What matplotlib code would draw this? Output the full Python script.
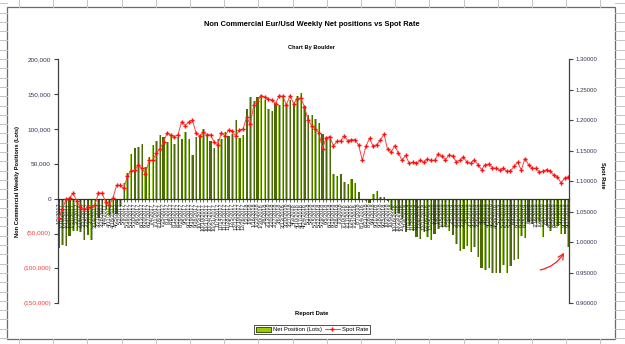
import numpy as np
import pandas as pd
import matplotlib
matplotlib.use("Agg")
import matplotlib.pyplot as plt
from matplotlib.patches import Patch, Rectangle
from matplotlib.lines import Line2D

plt.rcParams['font.family'] = ['Liberation Sans', 'DejaVu Sans']

# Weekly COT report dates
report_dates = pd.date_range("2017-01-03", periods=142, freq="7D")
date_labels = [f"{d.month}/{d.day}/{d.year}" for d in report_dates]

# Non commercial net positions, thousands of lots
net_k = [
    -71, -66, -67.5, -53, -46, -46, -48.5, -59.5, -51.5, -60,
    -41, -28, -22, -15, -24, -20, -22, -10, 22.5, 37,
    64, 73, 74, 78.5, 45, 59, 77, 83, 91.5, 88,
    81, 93, 78.5, 88, 85.7, 96, 85.7, 62.7, 88, 90.5,
    99, 91.5, 83, 72, 84.7, 84.7, 95, 89.5, 93, 113,
    86.6, 91.5, 128, 145, 140, 145.5, 148, 140.7, 127.8, 126,
    137, 133.5, 145.5, 135, 140.7, 135, 147, 152, 132, 120,
    120, 114.5, 109, 93, 88, 90, 35.5, 33, 35.5, 24,
    20.5, 28, 22, 10, -2, -3, -7, 7, 11.5, 2.5,
    3, -4, -17, -22, -20, -29, -48, -39, -47, -55.5,
    -58, -48, -55.5, -59, -50.7, -43.5, -41, -39, -46, -52,
    -65, -74.7, -72, -67.5, -77, -70, -84, -100, -102, -100,
    -106.7, -106.7, -106.7, -95, -106.7, -96, -87.6, -86.6, -53, -57,
    -34, -36, -33, -34, -55.5, -39, -47, -39, -39, -50,
    -51, -70,
]
net_positions = np.array(net_k) * 1000

# EUR/USD spot rate
spot_rate = [
    1.040, 1.054, 1.070, 1.073, 1.080, 1.067, 1.057, 1.054, 1.057, 1.057,
    1.061, 1.081, 1.080, 1.066, 1.061, 1.072, 1.093, 1.093, 1.088, 1.108,
    1.117, 1.118, 1.126, 1.121, 1.112, 1.134, 1.134, 1.146, 1.153, 1.164,
    1.179, 1.175, 1.173, 1.176, 1.197, 1.191, 1.197, 1.200, 1.179, 1.174,
    1.180, 1.176, 1.176, 1.164, 1.159, 1.179, 1.174, 1.184, 1.182, 1.174,
    1.184, 1.185, 1.205, 1.193, 1.225, 1.231, 1.240, 1.238, 1.234, 1.233,
    1.227, 1.240, 1.239, 1.225, 1.240, 1.227, 1.235, 1.236, 1.222, 1.200,
    1.191, 1.186, 1.179, 1.153, 1.171, 1.173, 1.158, 1.165, 1.166, 1.174,
    1.166, 1.168, 1.168, 1.159, 1.134, 1.157, 1.170, 1.157, 1.160, 1.167,
    1.177, 1.152, 1.148, 1.158, 1.146, 1.134, 1.142, 1.129, 1.131, 1.129,
    1.134, 1.131, 1.136, 1.134, 1.134, 1.144, 1.141, 1.135, 1.143, 1.141,
    1.132, 1.134, 1.139, 1.131, 1.129, 1.135, 1.127, 1.119, 1.127, 1.128,
    1.122, 1.121, 1.118, 1.121, 1.116, 1.117, 1.124, 1.131, 1.118, 1.137,
    1.127, 1.121, 1.121, 1.115, 1.116, 1.119, 1.116, 1.110, 1.107, 1.097,
    1.105, 1.107,
]

pos_ticks = np.arange(-150000, 200001, 50000)
rate_ticks = np.arange(0.90, 1.3001, 0.05)

W, H = 625, 344
fig = plt.figure(figsize=(W / 100, H / 100), dpi=100)

def fx(px):
    return px / W

def fy(py):
    return 1 - py / H

# spreadsheet cells around the chart object
grid_c = '#c4c4c4'
for cx in np.arange(19, W, 34.2):
    fig.add_artist(Line2D([fx(cx)] * 2, [fy(0), fy(7)], color=grid_c, lw=0.7))
    fig.add_artist(Line2D([fx(cx)] * 2, [fy(339), fy(H)], color=grid_c, lw=0.7))
for ry in np.arange(3.2, H, 9.3):
    fig.add_artist(Line2D([fx(0), fx(7)], [fy(ry)] * 2, color=grid_c, lw=0.7))
    fig.add_artist(Line2D([fx(615), fx(W)], [fy(ry)] * 2, color=grid_c, lw=0.7))
fig.add_artist(Rectangle((fx(7), fy(339)), fx(608), 332 / H, transform=fig.transFigure,
                         fill=False, edgecolor='#6a6a6a', lw=0.9))

ax = fig.add_axes([fx(58), fy(303.3), fx(511), 244.3 / H])
x = np.arange(len(net_positions))

# bars: grey shadow, olive body, lime highlight
ax.bar(x + 0.22, net_positions, width=0.32, color='#a6a6c8', lw=0)
ax.bar(x, net_positions, width=0.6, color='#4b6a08', lw=0)
ax.bar(x - 0.16, net_positions, width=0.22, color='#9acc2a', lw=0)

ax.set_xlim(-0.2, len(x) - 0.8)
ax.set_ylim(-150000, 200000)
for s in ['top', 'right']:
    ax.spines[s].set_visible(False)
ax.spines['bottom'].set_position(('data', 0))
ax.spines['bottom'].set_color('#303030')
ax.spines['left'].set_color('#404040')
ax.spines['bottom'].set_linewidth(0.9)
ax.spines['left'].set_linewidth(0.9)

ax.set_xticks(x)
ax.set_xticklabels(date_labels, rotation=90, fontsize=4)
ax.tick_params(axis='x', length=2, width=0.5, pad=1, labelcolor='#202020', color='#303030')

ax.set_yticks(pos_ticks)
ylabels = ax.set_yticklabels([f"{v:,.0f}" if v >= 0 else f"({-v:,.0f})" for v in pos_ticks])
for t, v in zip(ylabels, pos_ticks):
    t.set_color('#ff3a3a' if v < 0 else '#33335a')
ax.tick_params(axis='y', labelsize=4.6, length=3, width=0.8, pad=2, color='#404040')

ax2 = ax.twinx()
ax2.plot(x, spot_rate, color='#ff4040', lw=0.7, marker='P', ms=3, mfc='#ff1010', mec='#ff1010', mew=0)
ax2.set_ylim(0.90, 1.30)
ax2.set_yticks(rate_ticks)
ax2.set_yticklabels([f"{v:.5f}" for v in rate_ticks])
ax2.tick_params(axis='y', labelsize=4.3, length=3, width=0.8, pad=2, color='#404040', labelcolor='#33335a')
for s in ['top', 'left', 'bottom']:
    ax2.spines[s].set_visible(False)
ax2.spines['right'].set_color('#404040')
ax2.spines['right'].set_linewidth(0.9)

# red hand drawn arrow
ax.annotate('', xy=(140.2, -74000), xytext=(132.5, -103000),
            arrowprops=dict(arrowstyle='->', color='#ff1a1a', lw=0.9,
                            connectionstyle='arc3,rad=0.25'))

# texts
fig.text(fx(312), fy(24), "Non Commercial Eur/Usd Weekly Net positions vs Spot Rate",
         ha='center', va='center', fontsize=5.4, weight='bold')
fig.text(fx(312), fy(47.5), "Chart By Boulder", ha='center', va='center', fontsize=4.1, weight='bold')
fig.text(fx(312), fy(314), "Report Date", ha='center', va='center', fontsize=4.2, weight='bold')
fig.text(fx(18), fy(181), "Non Commercial Weekly Positions (Lots)", rotation=90,
         ha='center', va='center', fontsize=4.1, weight='bold')
fig.text(fx(603), fy(175), "Spot Rate", rotation=270, ha='center', va='center', fontsize=4.1, weight='bold')

handles = [Patch(facecolor='#99cc00', edgecolor='#2a3a00', lw=0.6),
           Line2D([], [], color='#ff4040', lw=0.7, marker='P', ms=3, mfc='#ff1010', mec='#ff1010', mew=0)]
leg = fig.legend(handles, ["Net Position (Lots)", "Spot Rate"], loc='center',
                 bbox_to_anchor=(fx(312), fy(329.5)), ncol=2, fontsize=4.2, frameon=True,
                 fancybox=False, edgecolor='black', handlelength=2.6, handleheight=0.9,
                 columnspacing=0.5, handletextpad=0.3, borderpad=0.35, borderaxespad=0)
leg.get_frame().set_linewidth(0.6)

fig.savefig("out.png", dpi=100)
